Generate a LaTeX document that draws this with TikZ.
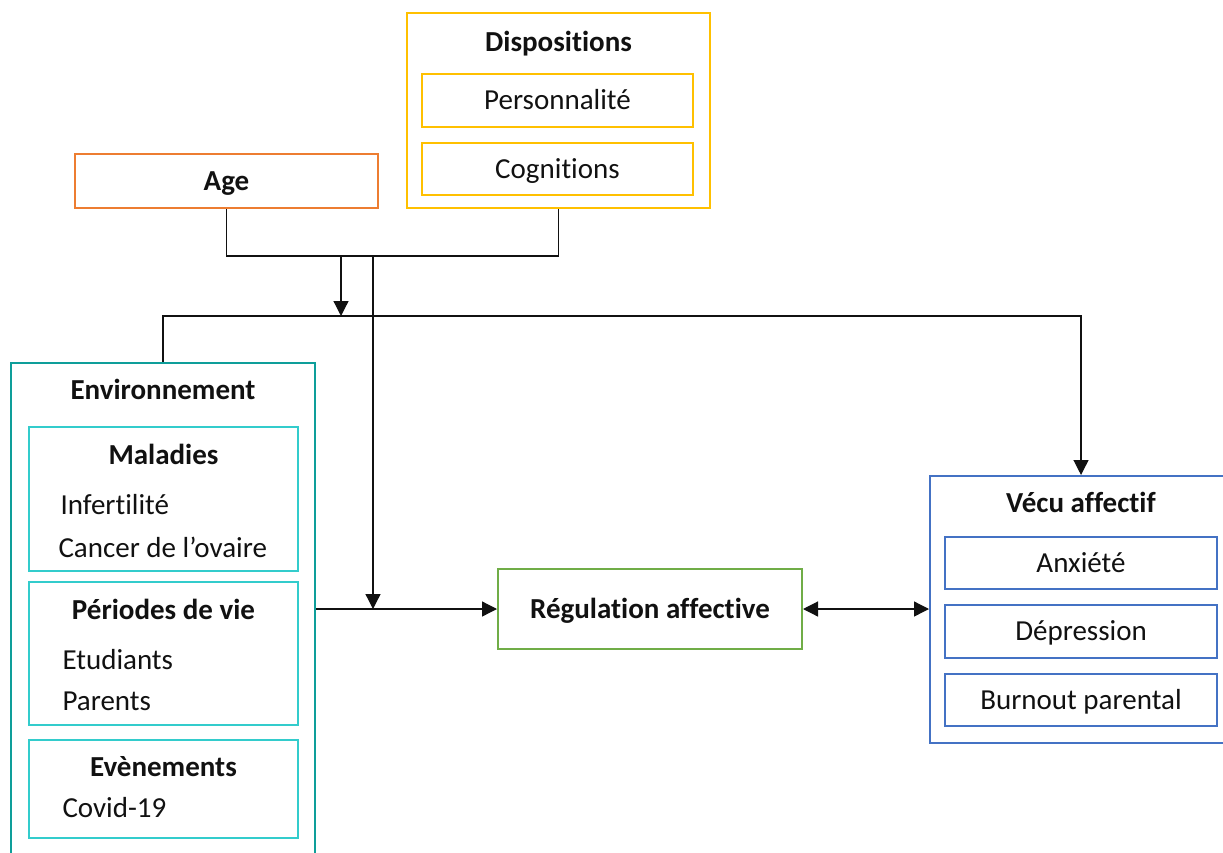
\documentclass[tikz,border=0pt]{standalone}
\usepackage{fontspec}
\setmainfont[Ligatures={NoCommon,NoRequired,NoContextual},RawFeature={-liga;-clig;-calt}]{Carlito}
\usetikzlibrary{arrows.meta,positioning}
\definecolor{fmOrange}{HTML}{ED7D31}
\definecolor{fmGold}{HTML}{FFC000}
\definecolor{fmTeal}{HTML}{0E9E9A}
\definecolor{fmCyan}{HTML}{33CCCC}
\definecolor{fmGreen}{HTML}{70AD47}
\definecolor{fmBlue}{HTML}{4472C4}
\definecolor{fmInk}{HTML}{111111}
\tikzset{
  txt/.style={inner sep=0pt, text height=9.4pt, text depth=2pt, font=\fontsize{11.6}{14}\selectfont, text=fmInk},
  ttl/.style={txt, font=\fontsize{11.6}{14}\selectfont\bfseries},
  itm/.style={txt, anchor=west},
  box/.style={draw, line width=0.8pt, inner sep=0pt, txt},
  boxO/.style={box, draw=fmOrange, minimum width=121.2pt, minimum height=21.6pt},
  boxY/.style={box, draw=fmGold},
  subY/.style={box, draw=fmGold, minimum width=108.4pt, minimum height=21pt},
  boxT/.style={box, draw=fmTeal},
  subT/.style={box, draw=fmCyan, minimum width=107.6pt},
  boxG/.style={box, draw=fmGreen, minimum width=121.6pt, minimum height=32pt},
  boxB/.style={box, draw=fmBlue},
  subB/.style={box, draw=fmBlue, minimum width=108.8pt, minimum height=21pt},
  conn/.style={line width=0.5pt, draw=fmInk},
  arr/.style={conn, -{Triangle[length=6pt,width=6pt]}},
  dblarr/.style={conn, {Triangle[length=6pt,width=6pt]}-{Triangle[length=6pt,width=6pt]}},
}
\begin{document}
\begin{tikzpicture}[x=0.4pt, y=-0.4pt, node distance=5.6pt]
  \useasboundingbox (0,0) rectangle (1223,852);
  % top row
  \node[boxO] (age) at (226.5,181) {\textbf{Age}};
  \node[boxY, minimum width=121.2pt, minimum height=78pt] (disp) at (558.5,110.5) {};
  \node[ttl] (dispT) at (558.5,42) {Dispositions};
  \node[subY] (pers) at (557.5,100.5) {Personnalité};
  \node[subY, below=of pers] (cogn) {Cognitions};
  % environnement
  \node[boxT, minimum width=121.6pt, minimum height=202.8pt] (env) at (163,616.5) {};
  \node[ttl] (envT) at (163,390) {Environnement};
  \node[subT, minimum height=57.6pt] (mal) at (163.5,499) {};
  \node[ttl] (malT) at (163.5,455) {Maladies};
  \node[itm] (inf) at (60,505) {Infertilité};
  \node[itm] (canc) at (58,548) {Cancer de l’ovaire};
  \node[subT, minimum height=57.2pt] (per) at (163.5,653.5) {};
  \node[ttl] (perT) at (163.5,610) {Périodes de vie};
  \node[itm] (etu) at (62,660) {Etudiants};
  \node[itm] (par) at (62,701) {Parents};
  \node[subT, minimum height=39.2pt] (evt) at (163.5,789) {};
  \node[ttl] (evtT) at (163.5,767) {Evènements};
  \node[itm] (cov) at (62,808) {Covid-19};
  % regulation + vecu
  \node[boxG] (reg) at (650,609) {\textbf{Régulation affective}};
  \node[boxB, minimum width=120.8pt, minimum height=106.8pt] (vecu) at (1081,609.5) {};
  \node[ttl] (vecuT) at (1081,503) {Vécu affectif};
  \node[subB] (anx) at (1081,563) {Anxiété};
  \node[subB, below=of anx] (dep) {Dépression};
  \node[subB, below=of dep] (burn) {Burnout parental};
  % connectors
  \coordinate (ja) at (341,255);
  \coordinate (jb) at (373,255);
  \coordinate (hl) at (341,316);
  \draw[conn] (age.south) -- ++(0,47) -| (disp.south);
  \draw[arr] (ja) -- (hl);
  \draw[arr] (env.north) -- (env.north |- hl) -| (vecu.north);
  \draw[arr] (jb) -- (jb |- reg.west);
  \draw[arr] (env.east |- reg.west) -- (reg.west);
  \draw[dblarr] (reg.east) -- (vecu.west |- reg.east);
\end{tikzpicture}
\end{document}
